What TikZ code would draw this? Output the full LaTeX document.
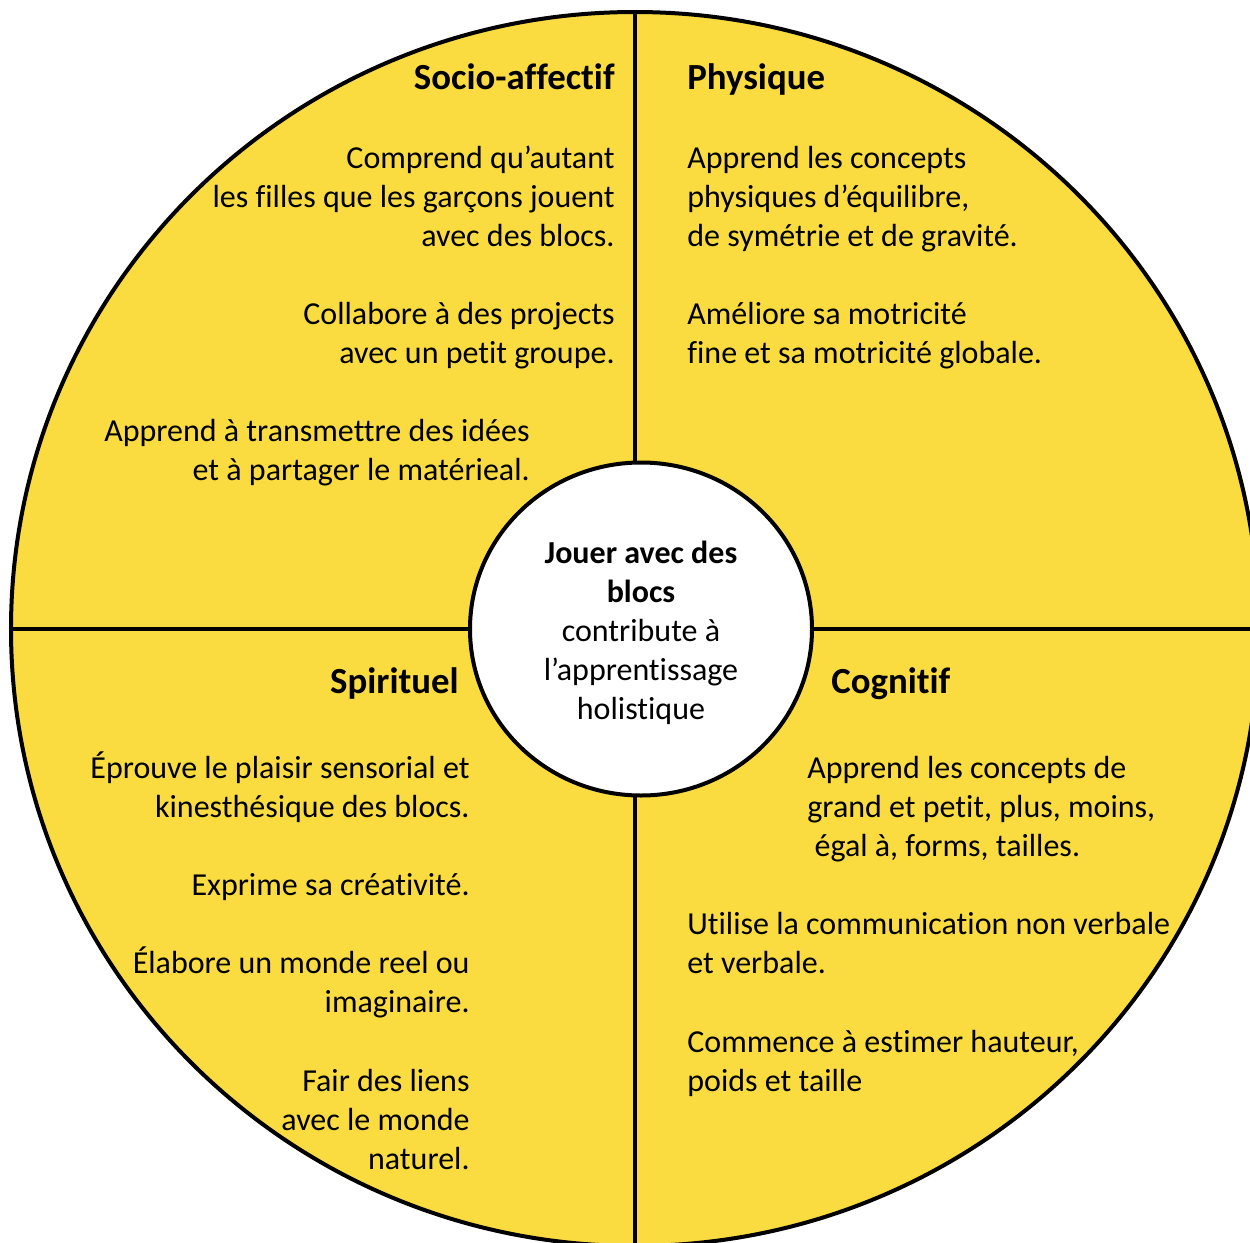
\documentclass[tikz,border=0pt]{standalone}
\usepackage{fontspec}
\setmainfont{Carlito}[Ligatures=NoCommon]
\usetikzlibrary{shapes.geometric}
\definecolor{blocyellow}{RGB}{250,220,65}
\tikzset{
  body/.style={font=\fontsize{16}{19.5}\selectfont, inner sep=0pt},
  head/.style={font=\fontsize{18.4}{22}\selectfont\bfseries, inner sep=0pt},
  lft/.style={align=left, anchor=base west},
  rgt/.style={align=right, anchor=base east},
  hub/.style={draw, line width=2pt, fill=white, ellipse, minimum width=171pt, minimum height=166.5pt},
}

\begin{document}
\begin{tikzpicture}[x=0.5pt,y=-0.5pt]

    % Page
    \useasboundingbox (0,0) rectangle (1250,1243);

    % Disc and quarters
    \fill[blocyellow] (635,629) ellipse [x radius=624, y radius=617];
    \coordinate (top) at (635,12);
    \coordinate (bottom) at (635,1246);
    \coordinate (left) at (11,629);
    \coordinate (right) at (1259,629);
    \draw[line width=1.6pt] (top) -- (bottom);
    \draw[line width=1.6pt] (left) -- (right);
    \draw[line width=2pt] (635,629) ellipse [x radius=624, y radius=617];

    % Hub (multi-line texts sit on their last baseline)
    \node[hub] (hub) at (641,629) {};
    \node[body, align=center, anchor=base] (hubtext) at (641,719)
        {\bfseries Jouer avec des\\\bfseries blocs\\contribute à\\l’apprentissage\\holistique};

    % Socio-affectif
    \node[head, rgt] (socio) at (615,89) {Socio-affectif};
    \node[body, rgt] (socio1) at (615,246) {Comprend qu’autant\\les filles que les garçons jouent\\avec des blocs.};
    \node[body, rgt] (socio2) at (615,363) {Collabore à des projects\\avec un petit groupe.};
    \node[body, rgt] (socio3) at (530,480) {Apprend à transmettre des idées\\et à partager le matérieal.};

    % Physique
    \node[head, lft] (physique) at (687,89) {Physique};
    \node[body, lft] (phys1) at (687,246) {Apprend les concepts\\physiques d’équilibre,\\de symétrie et de gravité.};
    \node[body, lft] (phys2) at (687,363) {Améliore sa motricité\\fine et sa motricité globale.};

    % Spirituel
    \node[head, rgt] (spirituel) at (459,693) {Spirituel};
    \node[body, rgt] (spir1) at (470,817) {Éprouve le plaisir sensorial et\\kinesthésique des blocs.};
    \node[body, rgt] (spir2) at (470,895) {Exprime sa créativité.};
    \node[body, rgt] (spir3) at (470,1012) {Élabore un monde reel ou\\imaginaire.};
    \node[body, rgt] (spir4) at (470,1169) {Fair des liens\\avec le monde\\naturel.};

    % Cognitif
    \node[head, lft] (cognitif) at (831,693) {Cognitif};
    \node[body, lft] (cog1) at (807,856) {Apprend les concepts de\\grand et petit, plus, moins,\\\hspace*{3.6pt}égal à, forms, tailles.};
    \node[body, lft] (cog2) at (687,973) {Utilise la communication non verbale\\et verbale.};
    \node[body, lft] (cog3) at (687,1091) {Commence à estimer hauteur,\\poids et taille};

\end{tikzpicture}
\end{document}
